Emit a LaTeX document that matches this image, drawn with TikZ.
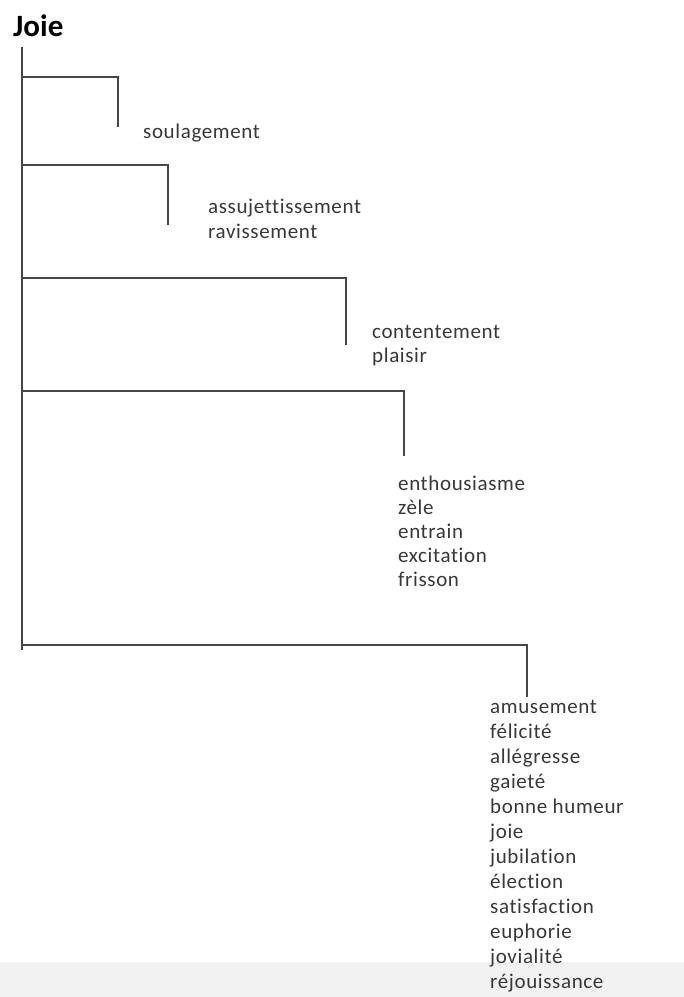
\documentclass[tikz,border=0pt]{standalone}
\usepackage{fontspec}
\setmainfont[Ligatures=NoCommon]{Carlito}
\begin{document}
\begin{tikzpicture}[x=1pt,y=-1pt,
  link/.style={draw=black!72,line width=1.3pt},
  lbl/.style={inner sep=0pt,anchor=base west,text=black!78,font=\fontsize{21}{24}\selectfont\addfontfeature{LetterSpace=3}},
  ttl/.style={inner sep=0pt,anchor=base west,text=black,font=\fontsize{31}{34}\bfseries\selectfont}]
\useasboundingbox (0,0) rectangle (684,997);
\fill[black!5] (0,962) rectangle (684,997);
\node[ttl] (root) at (13,36) {Joie};
\coordinate (top) at (22,47);
\coordinate (bot) at (22,650);
\draw[link] (top) -- (bot);
% branch anchors on trunk
\coordinate (t1) at (22,77);
\coordinate (t2) at (22,165);
\coordinate (t3) at (22,278);
\coordinate (t4) at (22,391);
\coordinate (t5) at (22,645);
\coordinate (e1) at (118,127);
\coordinate (e2) at (168,225);
\coordinate (e3) at (346,345);
\coordinate (e4) at (404,456);
\coordinate (e5) at (527,697);
\draw[link] (t1) -| (e1);
\draw[link] (t2) -| (e2);
\draw[link] (t3) -| (e3);
\draw[link] (t4) -| (e4);
\draw[link] (t5) -| (e5);
\node[lbl] (a1) at (143,138) {soulagement};
\foreach \w [count=\i] in {assujettissement,ravissement}
  \node[lbl] (b\i) at (208,{213+(\i-1)*25}) {\w};
\foreach \w [count=\i] in {contentement,plaisir}
  \node[lbl] (c\i) at (372,{338+(\i-1)*24}) {\w};
\foreach \w [count=\i] in {enthousiasme,zèle,entrain,excitation,frisson}
  \node[lbl] (d\i) at (398,{490+(\i-1)*24}) {\w};
\foreach \w [count=\i] in {amusement,félicité,allégresse,gaieté,bonne humeur,joie,jubilation,élection,satisfaction,euphorie,jovialité,réjouissance}
  \node[lbl] (f\i) at (490,{713+(\i-1)*25}) {\w};
\end{tikzpicture}
\end{document}
